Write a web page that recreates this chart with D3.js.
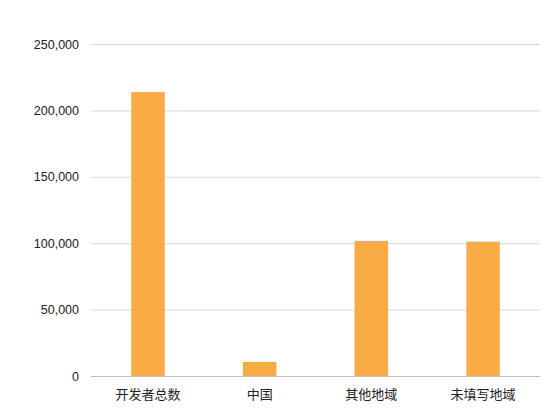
<!DOCTYPE html>
<html>
<head>
<meta charset="utf-8">
<script src="https://cdn.jsdelivr.net/npm/d3@7"></script>
<style>
  body { margin: 0; background: #fff; }
  text { font-family: "Liberation Sans", Arial, "Noto Sans CJK SC", sans-serif; fill: #222; }
</style>
</head>
<body>
<div id="chart"></div>
<script>
// categories and values
var categories = ["开发者总数", "中国", "其他地域", "未填写地域"];
var values = [213800, 10600, 101800, 101200];
var yTicks = [0, 50000, 100000, 150000, 200000, 250000];

var svgWidth = 558;
var svgHeight = 413;
var margin = { top: 44, right: 18, bottom: 37, left: 91 };
var width = svgWidth - margin.left - margin.right;
var height = svgHeight - margin.top - margin.bottom;

var svg = d3.select("#chart")
  .append("svg")
  .attr("width", svgWidth)
  .attr("height", svgHeight);

var chartGroup = svg.append("g")
  .attr("transform", `translate(${margin.left}, ${margin.top})`);

var x = d3.scaleBand()
  .domain(categories)
  .range([0, width])
  .paddingInner(0.7)
  .paddingOuter(0.36);

var y = d3.scaleLinear()
  .domain([0, 250000])
  .range([height, 0]);

// gridlines + tick labels
var yAxis = chartGroup.append("g")
  .call(d3.axisLeft(y).tickValues(yTicks).tickSize(-width).tickPadding(12)
    .tickFormat(d3.format(",")));
yAxis.select(".domain").remove();
yAxis.selectAll("line")
  .attr("stroke", d => d === 0 ? "#bdbdbd" : "#d9d9d9");
yAxis.selectAll("text")
  .attr("font-size", "12.5px")
  .attr("fill", "#222");

// bars
chartGroup.selectAll("rect.bar")
  .data(values)
  .enter()
  .append("rect")
  .attr("class", "bar")
  .attr("x", (d, i) => x(categories[i]))
  .attr("y", d => y(d))
  .attr("width", x.bandwidth())
  .attr("height", d => height - y(d))
  .attr("fill", "#fbab45");

// x labels
var xAxis = chartGroup.append("g")
  .attr("transform", `translate(0, ${height})`)
  .call(d3.axisBottom(x).tickSize(0).tickPadding(14));
xAxis.select(".domain").remove();
xAxis.selectAll("text")
  .attr("font-size", "13px")
  .attr("fill", "#222");
</script>
</body>
</html>
